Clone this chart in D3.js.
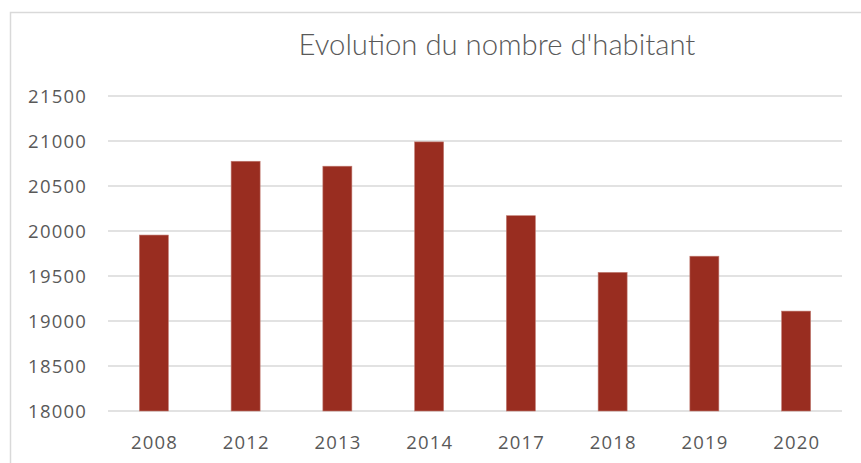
<!DOCTYPE html>
<html><head><meta charset="utf-8">
<script src="https://cdn.jsdelivr.net/npm/d3@7"></script>
<style>body{margin:0;background:#fff}svg{display:block}</style>
</head><body>
<svg id="c" width="861" height="463"></svg>
<script>
const categories = ["2008","2012","2013","2014","2017","2018","2019","2020"];
const values = [19955, 20775, 20720, 20990, 20170, 19540, 19720, 19110];
const yTicks = [18000, 18500, 19000, 19500, 20000, 20500, 21000, 21500];
const title = "Evolution du nombre d'habitant";

const svg = d3.select("#c");
const W = 861, H = 463;
const m = {left:108, right:19, top:96, bottom:52};

// chart border (partially visible)
svg.append("path").attr("d", `M10.5,${H+2} L10.5,12.5 L${W+2},12.5`)
  .attr("fill","none").attr("stroke","#d9d9d9").attr("stroke-width",1.5);

const x = d3.scaleBand().domain(categories).range([m.left, W-m.right])
  .paddingInner(0.684).paddingOuter(0.342);
const y = d3.scaleLinear().domain([18000, 21500]).range([411, 96]);

// gridlines
svg.append("g").selectAll("line").data(yTicks).join("line")
  .attr("x1", m.left).attr("x2", W-m.right)
  .attr("y1", d=>y(d)).attr("y2", d=>y(d))
  .attr("stroke","#d9d9d9").attr("stroke-width",1.5);

// bars
svg.append("g").selectAll("rect").data(values).join("rect")
  .attr("x",(d,i)=>x(categories[i]))
  .attr("width",x.bandwidth())
  .attr("y",d=>y(d))
  .attr("height",d=>y(18000)-y(d))
  .attr("fill","#992d20")
  .attr("stroke","#c07a70").attr("stroke-width",0.6);

const font = "'Open Sans', sans-serif";
// y axis
const yAxis = d3.axisLeft(y).tickValues(yTicks).tickSize(0).tickPadding(0).tickFormat(d=>String(d));
const gy = svg.append("g").attr("transform","translate(87,0)").call(yAxis);
gy.select(".domain").remove();
gy.selectAll("text").attr("font-family",font).attr("font-size",18.5)
  .attr("letter-spacing","1.2").attr("fill","#595959").attr("dy","0.35em");

// x axis
const xAxis = d3.axisBottom(x).tickSize(0).tickPadding(0);
const gx = svg.append("g").attr("transform","translate(0.6,449)").call(xAxis);
gx.select(".domain").remove();
gx.selectAll("text").attr("font-family",font).attr("font-size",18.5)
  .attr("letter-spacing","1.2").attr("fill","#595959").attr("dy","0");

// title
const t = svg.append("text").attr("x",497).attr("y",55).attr("text-anchor","middle")
  .attr("font-family","'Lato', sans-serif").attr("font-weight",300).attr("font-size",25)
  .attr("fill","#595959").text(title);
const w = t.node().getComputedTextLength();
t.attr("font-size", 25*397/w);
</script>
</body></html>
